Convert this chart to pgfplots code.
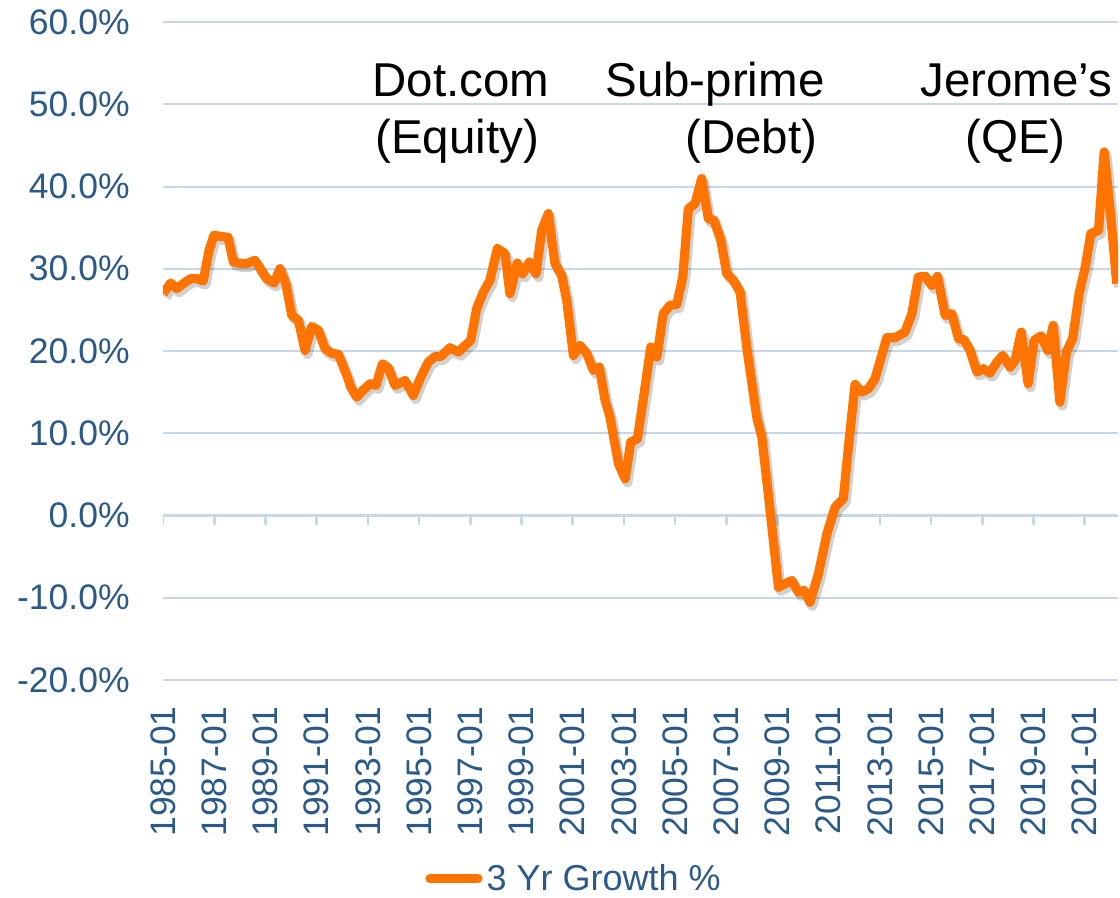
\documentclass[border=0pt]{standalone}
\usepackage{fontspec}
\setmainfont{Liberation Sans}
\usepackage{pgfplots}
\pgfplotsset{compat=1.18}
\usepackage{pgfplotstable}
\definecolor{lineorange}{HTML}{FF7400}
\definecolor{labelblue}{HTML}{2B5A8A}
\definecolor{gridc}{HTML}{C8D8EA}

\pgfplotstableread{
year val
1985.01 26.97
1985.30 28.26
1985.54 27.58
1985.79 28.19
1986.08 28.80
1986.32 28.80
1986.57 28.50
1986.80 32.24
1986.99 34.06
1987.23 33.94
1987.54 33.82
1987.75 30.82
1988.01 30.66
1988.27 30.62
1988.59 31.02
1988.79 30.05
1989.05 28.80
1989.34 28.26
1989.57 30.01
1989.80 28.19
1990.03 24.33
1990.29 23.72
1990.55 20.07
1990.81 22.99
1991.07 22.51
1991.33 20.28
1991.59 19.74
1991.85 19.59
1992.18 17.03
1992.34 15.57
1992.57 14.39
1992.81 15.21
1993.09 16.02
1993.32 15.82
1993.57 18.45
1993.80 17.97
1994.06 15.82
1994.45 16.42
1994.78 14.60
1995.04 16.63
1995.36 18.65
1995.63 19.34
1995.85 19.34
1996.21 20.40
1996.54 19.87
1996.76 20.56
1997.02 21.29
1997.25 25.15
1997.51 27.17
1997.77 28.59
1998.06 32.45
1998.36 31.84
1998.55 26.97
1998.84 30.69
1999.05 29.40
1999.31 30.82
1999.57 29.40
1999.79 34.67
2000.05 36.70
2000.31 30.62
2000.57 29.20
2000.77 26.16
2001.03 19.46
2001.29 20.68
2001.55 19.71
2001.81 17.64
2002.04 18.04
2002.27 13.99
2002.46 11.96
2002.79 6.29
2003.05 4.46
2003.27 8.92
2003.53 9.33
2003.79 14.81
2004.05 20.47
2004.29 19.26
2004.54 24.54
2004.80 25.55
2005.07 25.67
2005.30 28.99
2005.52 37.31
2005.78 37.92
2006.04 40.96
2006.30 36.09
2006.52 35.89
2006.79 33.45
2007.02 29.40
2007.28 28.59
2007.54 27.17
2007.80 20.47
2008.19 11.96
2008.39 9.53
2008.64 2.64
2008.84 -3.04
2009.04 -8.72
2009.56 -7.91
2009.82 -9.33
2010.04 -9.12
2010.27 -10.55
2010.60 -7.09
2010.93 -2.23
2011.25 1.01
2011.57 2.03
2011.77 8.31
2012.03 15.94
2012.29 15.00
2012.55 15.41
2012.81 16.63
2013.27 21.62
2013.59 21.62
2013.98 22.30
2014.25 24.54
2014.50 28.99
2014.77 29.08
2015.03 27.98
2015.25 29.08
2015.55 24.33
2015.81 24.54
2016.07 21.50
2016.29 21.37
2016.52 20.07
2016.79 17.43
2017.04 17.85
2017.30 17.31
2017.57 18.65
2017.80 19.46
2018.09 18.04
2018.28 18.86
2018.52 22.30
2018.79 16.02
2019.02 21.29
2019.30 21.84
2019.55 20.07
2019.77 23.11
2020.03 13.78
2020.29 19.95
2020.53 21.50
2020.78 26.97
2021.02 30.21
2021.24 34.27
2021.54 34.67
2021.76 44.20
2022.02 36.29
2022.25 28.19
}\growth

\begin{document}
\begin{tikzpicture}
\begin{axis}[
  scale only axis,
  width=477.5pt, height=329pt,
  xmin=1985, xmax=2022.3, ymin=-20, ymax=60,
  axis x line*=bottom, axis y line*=left,
  axis line style={draw=none},
  xtick={1985,1987,...,2021},
  xticklabels={1985-01,1987-01,1989-01,1991-01,1993-01,1995-01,1997-01,1999-01,2001-01,2003-01,2005-01,2007-01,2009-01,2011-01,2013-01,2015-01,2017-01,2019-01,2021-01},
  ytick={-20,-10,...,60},
  yticklabels={-20.0\%,-10.0\%,0.0\%,10.0\%,20.0\%,30.0\%,40.0\%,50.0\%,60.0\%},
  major tick length=0pt,
  ymajorgrids,
  grid style={gridc, line width=1pt},
  tick label style={font=\fontsize{17.75}{20}\selectfont, text=labelblue},
  xticklabel style={rotate=90, anchor=east, inner sep=0pt},
  yticklabel style={anchor=east, inner sep=0pt},
  xticklabel shift=13pt, yticklabel shift=16.5pt,
  legend style={at={(0.2743,-0.302)}, anchor=west, draw=none, fill=none,
    inner sep=0pt, font=\fontsize{18}{21}\selectfont, text=labelblue,
    /tikz/every even column/.append style={column sep=0pt}},
  legend image code/.code={\draw[#1, line cap=round] (0pt,0pt) -- (24pt,0pt);},
]
\draw[gridc, line width=1.3pt] (axis cs:1985,0) -- (axis cs:2022.3,0);
\pgfplotsinvokeforeach{1985,1987,...,2021}{
  \draw[gridc, line width=1.3pt] (axis cs:#1,0) -- ([yshift=-5pt]axis cs:#1,0);
}
\addplot[black, opacity=0.18, line width=5pt, line join=round, xshift=1.2pt, yshift=-1.8pt, forget plot] table[x=year, y=val] {\growth};
\addplot[lineorange, line width=4.6pt, line join=round] table[x=year, y=val] {\growth};
\addlegendentry{3 Yr Growth \%}
\end{axis}
\begin{scope}[every node/.style={font=\fontsize{23.75}{28}\selectfont, inner sep=0pt, anchor=base west}]
\node at (104.5pt,291.5pt) {Dot.com};
\node at (106pt,263pt) {(Equity)};
\node at (221pt,291.5pt) {Sub-prime};
\node at (261pt,263pt) {(Debt)};
\node at (378.5pt,291.5pt) {Jerome’s};
\node at (401pt,263pt) {(QE)};
\end{scope}
\pgfresetboundingbox
\path[use as bounding box] (-81.5pt,-109pt) rectangle (478.5pt,340pt);
\end{tikzpicture}
\end{document}
